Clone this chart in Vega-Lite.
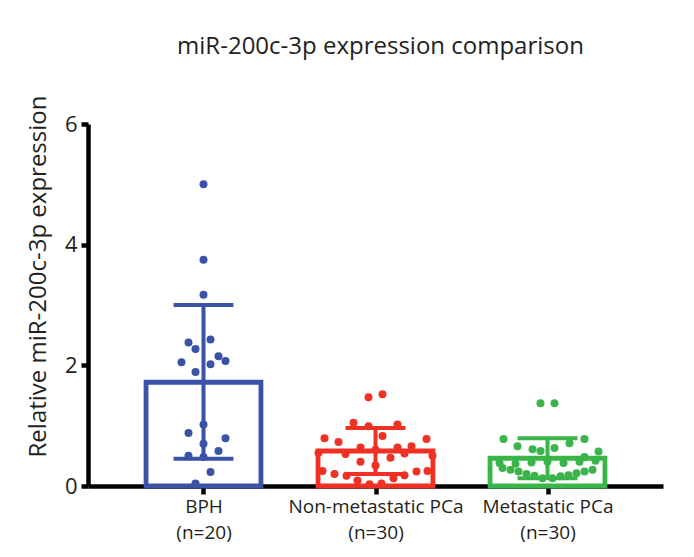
{
  "$schema": "https://vega.github.io/schema/vega-lite/v6.json",
  "autosize": "none",
  "width": 575,
  "height": 362,
  "padding": {"left": 88, "top": 124, "right": 31, "bottom": 71},
  "background": "white",
  "title": {
    "text": "miR-200c-3p expression comparison",
    "fontSize": 24,
    "fontWeight": "normal",
    "font": "Open Sans",
    "color": "#231f20",
    "offset": 36,
    "dx": 5
  },
  "datasets": {
    "summary": [
      {"group": "BPH", "mean": 1.72, "lo": 0.45, "hi": 3.0},
      {"group": "Non-metastatic PCa", "mean": 0.58, "lo": 0.2, "hi": 0.96},
      {"group": "Metastatic PCa", "mean": 0.46, "lo": 0.13, "hi": 0.79}
    ],
    "points": [
      {"group": "BPH", "value": 5.0, "jitter": 0},
      {"group": "BPH", "value": 3.75, "jitter": 0},
      {"group": "BPH", "value": 3.17, "jitter": 0},
      {"group": "BPH", "value": 2.38, "jitter": -15},
      {"group": "BPH", "value": 2.43, "jitter": 7},
      {"group": "BPH", "value": 2.27, "jitter": -8},
      {"group": "BPH", "value": 2.05, "jitter": -22},
      {"group": "BPH", "value": 2.15, "jitter": 15},
      {"group": "BPH", "value": 2.07, "jitter": 22},
      {"group": "BPH", "value": 2.02, "jitter": 7},
      {"group": "BPH", "value": 1.89, "jitter": -8},
      {"group": "BPH", "value": 1.02, "jitter": 0},
      {"group": "BPH", "value": 0.88, "jitter": -15},
      {"group": "BPH", "value": 0.79, "jitter": 22},
      {"group": "BPH", "value": 0.7, "jitter": 0},
      {"group": "BPH", "value": 0.58, "jitter": 15},
      {"group": "BPH", "value": 0.5, "jitter": -15},
      {"group": "BPH", "value": 0.48, "jitter": 0},
      {"group": "BPH", "value": 0.23, "jitter": 7},
      {"group": "BPH", "value": 0.04, "jitter": -8},
      {"group": "Non-metastatic PCa", "value": 1.47, "jitter": -7},
      {"group": "Non-metastatic PCa", "value": 1.52, "jitter": 7},
      {"group": "Non-metastatic PCa", "value": 1.05, "jitter": -22},
      {"group": "Non-metastatic PCa", "value": 0.99, "jitter": -7},
      {"group": "Non-metastatic PCa", "value": 1.02, "jitter": 22},
      {"group": "Non-metastatic PCa", "value": 0.83, "jitter": 7},
      {"group": "Non-metastatic PCa", "value": 0.79, "jitter": -51},
      {"group": "Non-metastatic PCa", "value": 0.73, "jitter": -37},
      {"group": "Non-metastatic PCa", "value": 0.78, "jitter": 51},
      {"group": "Non-metastatic PCa", "value": 0.64, "jitter": -15},
      {"group": "Non-metastatic PCa", "value": 0.64, "jitter": 22},
      {"group": "Non-metastatic PCa", "value": 0.66, "jitter": 36},
      {"group": "Non-metastatic PCa", "value": 0.53, "jitter": -30},
      {"group": "Non-metastatic PCa", "value": 0.6, "jitter": 0},
      {"group": "Non-metastatic PCa", "value": 0.47, "jitter": 15},
      {"group": "Non-metastatic PCa", "value": 0.54, "jitter": 29},
      {"group": "Non-metastatic PCa", "value": 0.4, "jitter": -15},
      {"group": "Non-metastatic PCa", "value": 0.34, "jitter": 0},
      {"group": "Non-metastatic PCa", "value": 0.25, "jitter": -53},
      {"group": "Non-metastatic PCa", "value": 0.2, "jitter": -41},
      {"group": "Non-metastatic PCa", "value": 0.17, "jitter": -29},
      {"group": "Non-metastatic PCa", "value": 0.25, "jitter": 52},
      {"group": "Non-metastatic PCa", "value": 0.24, "jitter": 41},
      {"group": "Non-metastatic PCa", "value": 0.18, "jitter": 29},
      {"group": "Non-metastatic PCa", "value": 0.13, "jitter": 18},
      {"group": "Non-metastatic PCa", "value": 0.09, "jitter": -18},
      {"group": "Non-metastatic PCa", "value": 0.03, "jitter": -6},
      {"group": "Non-metastatic PCa", "value": 0.04, "jitter": 6},
      {"group": "Non-metastatic PCa", "value": 0.55, "jitter": -57},
      {"group": "Non-metastatic PCa", "value": 0.5, "jitter": 57},
      {"group": "Metastatic PCa", "value": 1.37, "jitter": -7},
      {"group": "Metastatic PCa", "value": 1.37, "jitter": 7},
      {"group": "Metastatic PCa", "value": 0.78, "jitter": -44},
      {"group": "Metastatic PCa", "value": 0.78, "jitter": 37},
      {"group": "Metastatic PCa", "value": 0.66, "jitter": -30},
      {"group": "Metastatic PCa", "value": 0.61, "jitter": -15},
      {"group": "Metastatic PCa", "value": 0.58, "jitter": -7},
      {"group": "Metastatic PCa", "value": 0.63, "jitter": 7},
      {"group": "Metastatic PCa", "value": 0.71, "jitter": 22},
      {"group": "Metastatic PCa", "value": 0.57, "jitter": 51},
      {"group": "Metastatic PCa", "value": 0.48, "jitter": 37},
      {"group": "Metastatic PCa", "value": 0.38, "jitter": -48},
      {"group": "Metastatic PCa", "value": 0.37, "jitter": -32},
      {"group": "Metastatic PCa", "value": 0.39, "jitter": -16},
      {"group": "Metastatic PCa", "value": 0.4, "jitter": 0},
      {"group": "Metastatic PCa", "value": 0.38, "jitter": 16},
      {"group": "Metastatic PCa", "value": 0.4, "jitter": 32},
      {"group": "Metastatic PCa", "value": 0.42, "jitter": 48},
      {"group": "Metastatic PCa", "value": 0.3, "jitter": -45},
      {"group": "Metastatic PCa", "value": 0.27, "jitter": -37},
      {"group": "Metastatic PCa", "value": 0.24, "jitter": -29},
      {"group": "Metastatic PCa", "value": 0.2, "jitter": -21},
      {"group": "Metastatic PCa", "value": 0.17, "jitter": -13},
      {"group": "Metastatic PCa", "value": 0.13, "jitter": -5},
      {"group": "Metastatic PCa", "value": 0.13, "jitter": 5},
      {"group": "Metastatic PCa", "value": 0.16, "jitter": 13},
      {"group": "Metastatic PCa", "value": 0.18, "jitter": 21},
      {"group": "Metastatic PCa", "value": 0.21, "jitter": 29},
      {"group": "Metastatic PCa", "value": 0.24, "jitter": 37},
      {"group": "Metastatic PCa", "value": 0.27, "jitter": 45}
    ]
  },
  "config": {
    "view": {"stroke": null},
    "font": "Open Sans",
    "axis": {"grid": false, "domainColor": "black", "tickColor": "black", "labelColor": "#231f20", "titleColor": "#231f20", "labelFont": "Open Sans", "titleFont": "Open Sans"}
  },
  "encoding": {
    "color": {
      "field": "group",
      "type": "nominal",
      "scale": {"domain": ["BPH", "Non-metastatic PCa", "Metastatic PCa"], "range": ["#3a53a4", "#ee3124", "#3ab54a"]},
      "legend": null
    }
  },
  "layer": [
    {
      "data": {"name": "summary"},
      "transform": [
        {"calculate": "indexof(['BPH', 'Non-metastatic PCa', 'Metastatic PCa'], datum.group)", "as": "idx"},
        {"calculate": "datum.idx - 0.334", "as": "left"},
        {"calculate": "datum.idx + 0.334", "as": "right"}
      ],
      "mark": {"type": "bar", "fill": null, "fillOpacity": 0, "strokeWidth": 4.8, "strokeOpacity": 1},
      "encoding": {
        "x": {
          "field": "left",
          "type": "quantitative",
          "scale": {"domain": [-0.6715, 2.6715], "nice": false, "zero": false},
          "axis": {
            "title": null,
            "values": [0, 1, 2],
            "labelAngle": 0,
            "domainWidth": 4.5,
            "tickWidth": 4.5,
            "tickSize": 8,
            "labelFontSize": 19,
            "labelPadding": 3,
            "labelLineHeight": 26,
            "labelFlush": false,
            "labelOverlap": false,
            "labelExpr": "datum.value == 0 ? ['BPH', '(n=20)'] : datum.value == 1 ? ['Non-metastatic PCa', '(n=30)'] : ['Metastatic PCa', '(n=30)']"
          }
        },
        "x2": {"field": "right"},
        "y": {
          "field": "mean",
          "type": "quantitative",
          "scale": {"domain": [0, 6], "nice": false, "zero": true},
          "axis": {
            "values": [0, 2, 4, 6],
            "format": "d",
            "title": "Relative miR-200c-3p expression",
            "titleFontSize": 24,
            "titleFontWeight": "normal",
            "titlePadding": 14,
            "titleY": 152,
            "labelFontSize": 22,
            "labelPadding": 4,
            "domainWidth": 4.5,
            "tickWidth": 4.5,
            "tickSize": 7
          }
        },
        "y2": {"datum": 0},
        "stroke": {"field": "group", "type": "nominal", "scale": {"domain": ["BPH", "Non-metastatic PCa", "Metastatic PCa"], "range": ["#3a53a4", "#ee3124", "#3ab54a"]}, "legend": null},
        "color": {"value": null}
      }
    },
    {
      "data": {"name": "summary"},
      "transform": [
        {"calculate": "indexof(['BPH', 'Non-metastatic PCa', 'Metastatic PCa'], datum.group)", "as": "idx"}
      ],
      "mark": {"type": "rule", "strokeWidth": 4, "opacity": 1},
      "encoding": {
        "x": {"field": "idx", "type": "quantitative"},
        "y": {"field": "lo", "type": "quantitative"},
        "y2": {"field": "hi"}
      }
    },
    {
      "data": {"name": "summary"},
      "transform": [
        {"calculate": "indexof(['BPH', 'Non-metastatic PCa', 'Metastatic PCa'], datum.group)", "as": "idx"},
        {"calculate": "datum.idx - 0.174", "as": "cl"},
        {"calculate": "datum.idx + 0.174", "as": "cr"},
        {"fold": ["lo", "hi"], "as": ["which", "capv"]}
      ],
      "mark": {"type": "rule", "strokeWidth": 4, "opacity": 1},
      "encoding": {
        "x": {"field": "cl", "type": "quantitative"},
        "x2": {"field": "cr"},
        "y": {"field": "capv", "type": "quantitative"}
      }
    },
    {
      "data": {"name": "points"},
      "transform": [
        {"calculate": "indexof(['BPH', 'Non-metastatic PCa', 'Metastatic PCa'], datum.group) + datum.jitter / 172", "as": "px"}
      ],
      "mark": {"type": "circle", "size": 64, "opacity": 1},
      "encoding": {
        "x": {"field": "px", "type": "quantitative"},
        "y": {"field": "value", "type": "quantitative"}
      }
    }
  ]
}
